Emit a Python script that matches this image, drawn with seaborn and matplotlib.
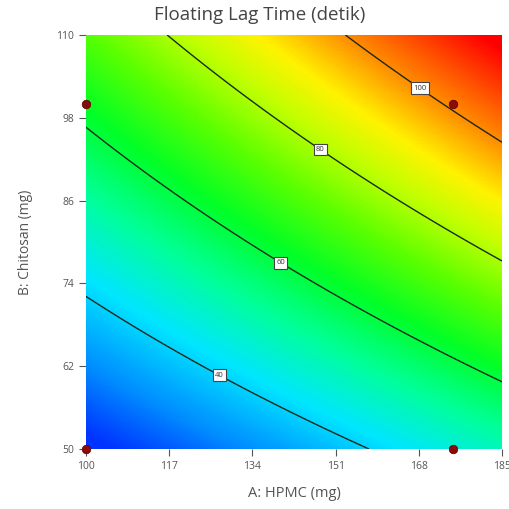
import numpy as np
import matplotlib
matplotlib.use("Agg")
import matplotlib.pyplot as plt
from matplotlib.colors import LinearSegmentedColormap, Normalize
import seaborn as sns
import pandas as pd

# Contour crossings (level, A: HPMC, B: Chitosan)
contour_level = [40, 40, 40, 60, 60, 60, 80, 80, 80, 100, 100, 100]
contour_A = [100, 127.4, 157, 100, 139.8, 185, 116.5, 147.8, 185, 152.9, 168.4, 185]
contour_B = [72.0, 60.9, 50, 96.7, 77.0, 60, 110, 93.3, 77.1, 110, 102.5, 94.3]

levels = [40, 60, 80, 100]
label_A = [127.4, 139.8, 147.8, 168.4]
label_B = [60.9, 77.0, 93.3, 102.5]

design_A = [100, 100, 175, 175]
design_B = [50, 100, 100, 50]

x_ticks = [100, 117, 134, 151, 168, 185]
y_ticks = [50, 62, 74, 86, 98, 110]

sns.set_style("white")
plt.rcParams['font.family'] = ['Open Sans', 'DejaVu Sans']

# quadratic response surface fitted to the contour readings
A = np.array(contour_A); B = np.array(contour_B); Z = np.array(contour_level, float)
X = np.column_stack([np.ones_like(A), A, B, A * B, A ** 2, B ** 2])
coef, *_ = np.linalg.lstsq(X, Z, rcond=None)

ga = np.linspace(100, 185, 300)
gb = np.linspace(50, 110, 300)
GA, GB = np.meshgrid(ga, gb)
GZ = (coef[0] + coef[1] * GA + coef[2] * GB + coef[3] * GA * GB
      + coef[4] * GA ** 2 + coef[5] * GB ** 2)

vmin, vmax = 24.0, 116.0
stop_vals = [24, 32, 42, 52, 62, 72, 82, 90, 100, 116]
stop_cols = [(0, 0.2, 1.0), (0, 0.55, 1.0), (0, 0.9, 1.0), (0, 1, 0.6), (0, 1, 0.15),
             (0.35, 1, 0), (0.75, 1, 0), (1, 0.95, 0), (1, 0.55, 0), (1, 0, 0)]
cmap = LinearSegmentedColormap.from_list(
    "de", [((v - vmin) / (vmax - vmin), c) for v, c in zip(stop_vals, stop_cols)])

fig = plt.figure(figsize=(5.1, 5.09), dpi=100)
ax = fig.add_axes([86 / 510, 1 - 449 / 509, 416 / 510, 414 / 509])
ax.pcolormesh(GA, GB, GZ, cmap=cmap, norm=Normalize(vmin, vmax), shading="auto")
cs = ax.contour(GA, GB, GZ, levels=levels, colors="#1a2a1a", linewidths=1.0)
lbls = ax.clabel(cs, fmt="%d", fontsize=5.5, inline=False,
                 manual=list(zip(label_A, label_B)))
for t in lbls:
    t.set_rotation(0)
    t.set_color("#333333")
    t.set_bbox(dict(boxstyle="square,pad=0.3", fc="white", ec="#444444", lw=0.8))

df = pd.DataFrame({"A": design_A, "B": design_B})
sns.scatterplot(data=df, x="A", y="B", ax=ax, color="#8b0a0a", s=38,
                edgecolor="#5a0000", linewidth=0.5, zorder=5, clip_on=False)

ax.set_xlim(100, 185)
ax.set_ylim(50, 110)
ax.set_xticks(x_ticks)
ax.set_yticks(y_ticks)
ax.tick_params(axis="both", labelsize=7.5, colors="#555555", length=5, direction="out",
               bottom=True, left=True)
for s in ax.spines.values():
    s.set_visible(False)
ax.set_xlabel("A: HPMC (mg)", fontsize=10.5, color="#555555", labelpad=10)
ax.set_ylabel("B: Chitosan (mg)", fontsize=10, color="#555555", labelpad=17)
fig.text(0.51, 1 - 15 / 509, "Floating Lag Time (detik)", fontsize=13.5,
         color="#444444", ha="center", va="center")

fig.savefig("out.png", dpi=100)
